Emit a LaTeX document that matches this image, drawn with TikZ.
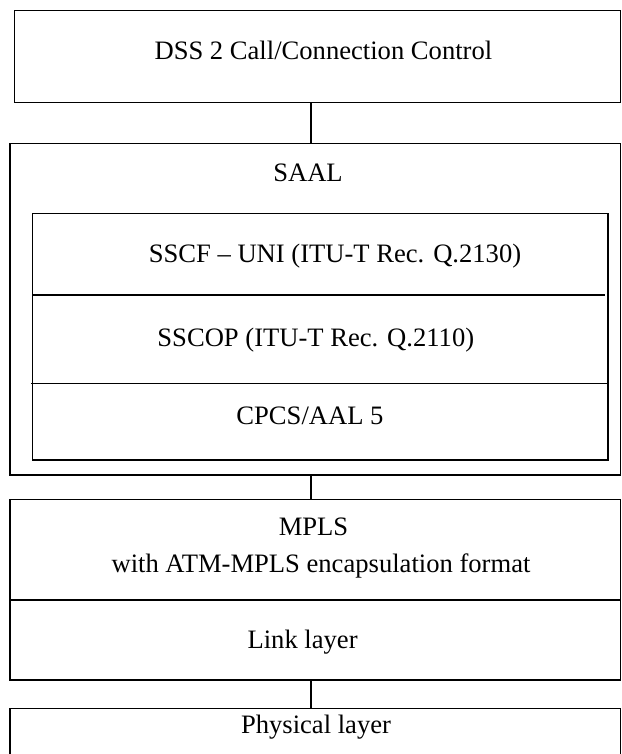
\documentclass[tikz,border=0pt]{standalone}
\usepackage{fontspec}
\setmainfont{Liberation Serif}
\begin{document}
\begin{tikzpicture}[x=1pt,y=-1pt,
  layer/.style={draw=black, line width=1.5pt, rectangle, inner sep=0pt, outer sep=0pt, anchor=north west},
  rule/.style={draw=black, line width=1.5pt},
  link/.style={draw=black, line width=1.5pt},
  label/.style={anchor=base, inner sep=0pt, font=\fontsize{26.6}{32}\selectfont}]
\useasboundingbox (0,0) rectangle (621,754);
\clip (0,0) rectangle (621,754);

% protocol layers
\node[layer, minimum width=605.8pt, minimum height=92pt]   (dss)   at (14.5,10.7)  {};
\node[layer, minimum width=610.3pt, minimum height=331.3pt] (saal)  at (10,143.7)  {};
\node[layer, minimum width=575.5pt, minimum height=246.7pt] (inner) at (32.5,213.3) {};
\node[layer, minimum width=610.3pt, minimum height=180.7pt] (mpls)  at (10,499.3)  {};
\node[layer, minimum width=610.3pt, minimum height=82pt]    (phys)  at (10,708.3)  {};

% sublayer dividers
\draw[rule] (inner.west |- 0,295) -- (605,295);
\draw[rule] (31,383.3) -- (inner.east |- 0,383.3);
\draw[rule] (mpls.west |- 0,600) -- (mpls.east |- 0,600);

% texts
\node[label] (tdss)  at (323.4,60)    {DSS 2 Call/Connection Control};
\node[label] (tsaal) at (308,181.7)   {SAAL};
\node[label] (tsscf) at (335,262)     {SSCF – UNI (ITU-T Rec. Q.2130)};
\node[label] (tsscop) at (315.8,346.7) {SSCOP (ITU-T Rec. Q.2110)};
\node[label] (tcpcs) at (310,424)     {CPCS/AAL 5};
\node[label] (tmpls) at (313.5,535)   {MPLS};
\node[label] (tenc)  at (321,572)     {with ATM-MPLS encapsulation format};
\node[label] (tlink) at (302.6,648)   {Link layer};
\node[label] (tphys) at (316,733)     {Physical layer};

% connectors between layers
\coordinate (cx) at (311,0);
\draw[link] (dss.south -| cx)  -- (saal.north -| cx);
\draw[link] (saal.south -| cx) -- (mpls.north -| cx);
\draw[link] (mpls.south -| cx) -- (phys.north -| cx);
\end{tikzpicture}
\end{document}
